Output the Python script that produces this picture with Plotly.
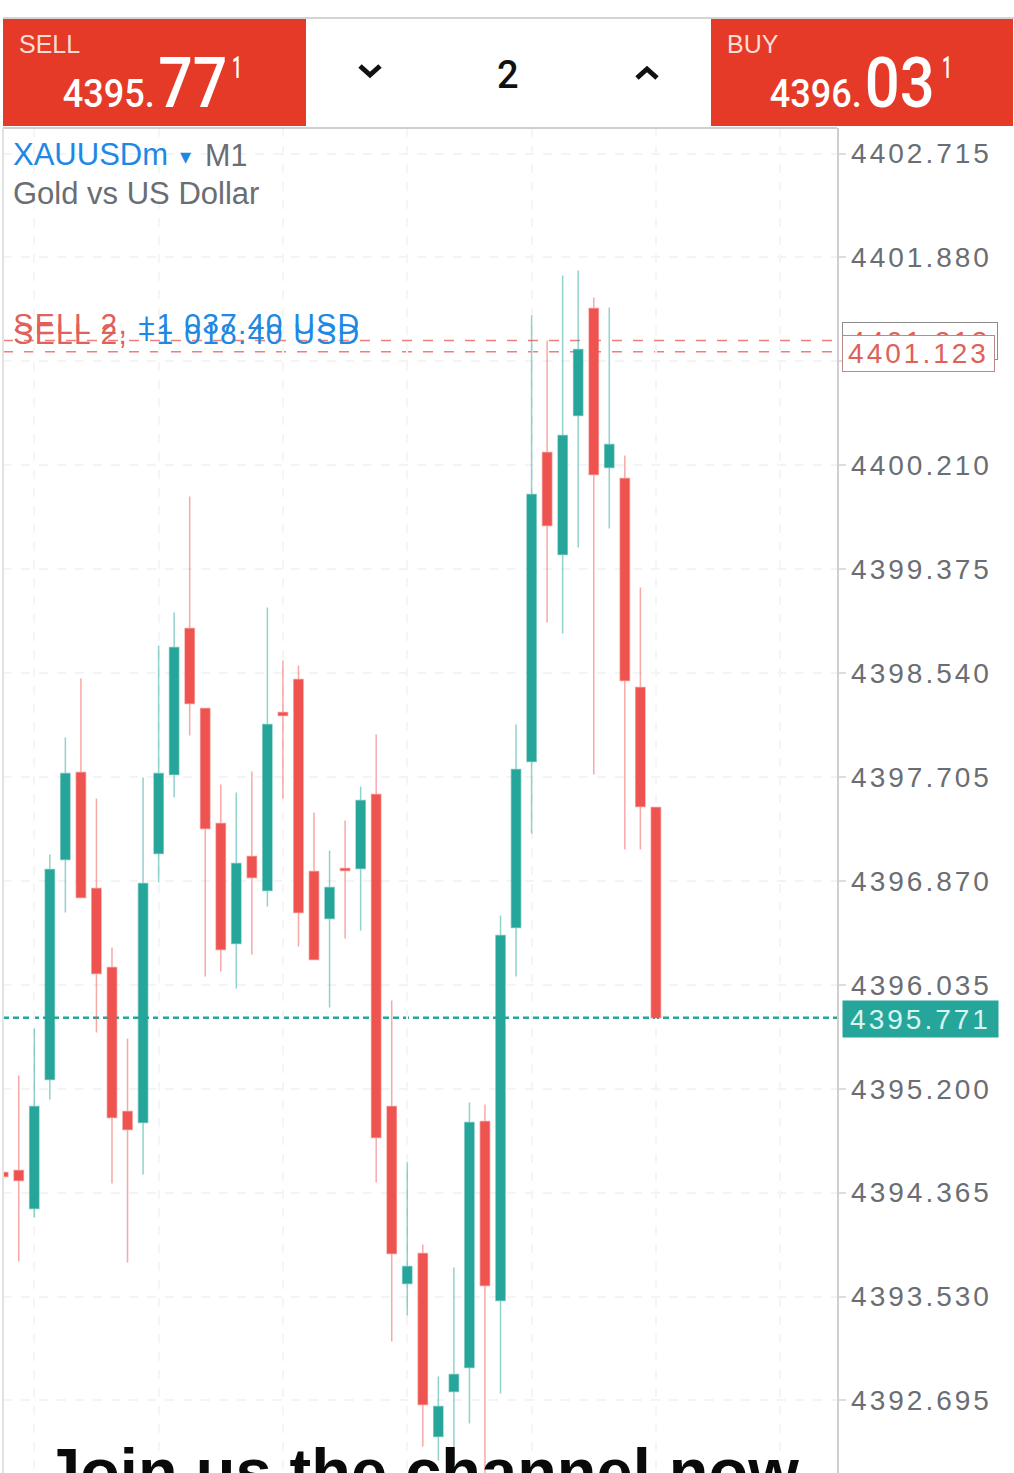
# XAUUSDm M1 candles with the sell / buy header of the trading app
import plotly.graph_objects as go

W = 1014
H = 1473

candles = list(range(43))

open_ = [4394.527, 4394.543, 4394.238, 4395.274, 4397.042, 4397.741, 4396.809, 4396.174, 4395.017, 4394.929,
         4397.090, 4397.725, 4398.898, 4398.255, 4397.331, 4396.367, 4397.066, 4396.793, 4398.223, 4398.488,
         4396.946, 4396.568, 4396.970, 4396.970, 4397.564, 4395.057, 4393.635, 4393.876, 4392.406, 4392.767,
         4392.960, 4394.937, 4393.498, 4396.496, 4397.829, 4400.312, 4399.493, 4400.609, 4401.469, 4400.192,
         4400.103, 4398.424, 4397.460]
high = [4394.527, 4395.306, 4395.684, 4397.082, 4398.022, 4398.496, 4397.532, 4396.335, 4395.604, 4397.701,
        4398.761, 4399.027, 4399.959, 4398.255, 4397.645, 4397.580, 4397.749, 4399.067, 4398.641, 4398.601,
        4397.420, 4397.114, 4397.355, 4397.628, 4398.046, 4395.909, 4394.607, 4393.948, 4392.888, 4393.764,
        4395.089, 4395.073, 4396.592, 4398.127, 4401.413, 4401.212, 4401.734, 4401.775, 4401.558, 4401.477,
        4400.288, 4399.227, 4397.460]
low = [4394.495, 4393.812, 4394.165, 4395.114, 4396.616, 4396.737, 4395.652, 4394.439, 4393.804, 4394.511,
       4396.857, 4397.540, 4398.038, 4396.102, 4396.142, 4396.005, 4396.279, 4396.664, 4397.532, 4396.343,
       4396.238, 4395.853, 4396.407, 4396.471, 4394.447, 4393.169, 4393.378, 4392.325, 4392.213, 4392.052,
       4392.510, 4392.052, 4392.751, 4396.102, 4397.251, 4398.946, 4398.858, 4399.549, 4397.725, 4399.701,
       4397.122, 4397.122, 4395.771]
close = [4394.495, 4394.463, 4395.057, 4396.962, 4397.733, 4396.737, 4396.126, 4394.969, 4394.872, 4396.849,
         4397.733, 4398.745, 4398.295, 4397.291, 4396.319, 4397.010, 4396.897, 4398.127, 4398.199, 4396.616,
         4396.238, 4396.817, 4396.954, 4397.516, 4394.808, 4393.876, 4393.772, 4392.663, 4392.647, 4392.904,
         4394.929, 4393.619, 4396.431, 4397.765, 4399.975, 4399.726, 4400.449, 4401.140, 4400.135, 4400.376,
         4398.480, 4397.468, 4395.771]

price_ticks = [4402.715, 4401.880, 4401.045, 4400.210, 4399.375, 4398.540, 4397.705,
               4396.870, 4396.035, 4395.200, 4394.365, 4393.530, 4392.695]
time_ticks = [2, 10, 18, 26, 34, 42, 50]
sell_levels = [4401.213, 4401.123]
bid_price = 4395.771

GREEN = "#26A69A"
RED = "#EF5350"
HEADER_RED = "#E53A27"
GREY = "#6A6E73"
BLUE = "#1E88E5"
FONT = "Liberation Sans"
PRICE_FONT = "Roboto"


def px(x):
    return x / W


def py(y):
    return 1 - y / H


def label(text, x, y, size, color, family=FONT, xanchor="left", yanchor="middle", weight="normal"):
    fig.add_annotation(text=text, xref="paper", yref="paper", x=px(x), y=py(y), showarrow=False,
                       xanchor=xanchor, yanchor=yanchor, borderpad=0,
                       font=dict(family=family, size=size, color=color, weight=weight))


fig = go.Figure(go.Candlestick(
    x=candles, open=open_, high=high, low=low, close=close,
    increasing=dict(line=dict(color="rgba(38,166,154,0.5)", width=1.5), fillcolor=GREEN),
    decreasing=dict(line=dict(color="rgba(239,83,80,0.5)", width=1.5), fillcolor=RED),
    whiskerwidth=0, hoverinfo="skip"))

# order lines and current price line sit behind the candles
for level in sell_levels:
    fig.add_shape(type="line", xref="paper", yref="y", x0=px(3), x1=px(837), y0=level, y1=level, layer="below",
                  line=dict(color="#EE7F7F", width=1.5, dash="10px,11px"))
fig.add_shape(type="line", xref="paper", yref="y", x0=px(3), x1=px(837), y0=bid_price, y1=bid_price, layer="below",
              line=dict(color=GREEN, width=2.5, dash="6px,4px"))

# frame
fig.add_shape(type="line", xref="paper", yref="paper", x0=px(3), x1=px(1014), y0=py(18), y1=py(18),
              line=dict(color="#D4D4D4", width=2))
fig.add_shape(type="line", xref="paper", yref="paper", x0=px(3), x1=px(837), y0=py(128), y1=py(128),
              line=dict(color="#CFCFCF", width=2))
fig.add_shape(type="line", xref="paper", yref="paper", x0=px(3), x1=px(3), y0=py(128), y1=py(1473),
              line=dict(color="#E2E2E2", width=2))

# header buttons
for x0, x1 in [(3, 306), (711, 1013)]:
    fig.add_shape(type="rect", xref="paper", yref="paper", x0=px(x0), x1=px(x1), y0=py(19), y1=py(126),
                  fillcolor=HEADER_RED, line_width=0)
fig.add_shape(type="path", xref="paper", yref="paper",
              path=f"M {px(360)} {py(66)} L {px(370)} {py(75)} L {px(380)} {py(66)}",
              line=dict(color="#111111", width=5))
fig.add_shape(type="path", xref="paper", yref="paper",
              path=f"M {px(637)} {py(78)} L {px(647)} {py(69)} L {px(657)} {py(78)}",
              line=dict(color="#111111", width=5))

label("SELL", 18, 44, 25, "#FBDCD6")
label("4395.", 109, 94, 39, "#FFFFFF", PRICE_FONT, "center", weight=500)
label("77", 192.5, 83, 70, "#FFFFFF", PRICE_FONT, "center", weight=500)
label("1", 227, 67, 32, "#FFFFFF", PRICE_FONT, weight=500)
label("BUY", 726, 44, 25, "#FBDCD6")
label("4396.", 816, 94, 39, "#FFFFFF", PRICE_FONT, "center", weight=500)
label("03", 899.5, 83, 70, "#FFFFFF", PRICE_FONT, "center", weight=500)
label("1", 937, 67, 32, "#FFFFFF", PRICE_FONT, weight=500)
label("2", 508, 75, 38, "#111111", PRICE_FONT, "center", weight=500)

label("XAUUSDm", 11.5, 155, 31, BLUE)
label("▾", 179, 156, 22, BLUE)
label("M1", 204, 155, 30.5, GREY)
label("Gold vs US Dollar", 11.5, 193, 31, GREY)

label('<span style="color:#E0605A">SELL 2,</span> +1 037.40 USD', 186.5, 323, 30, BLUE, xanchor="center")
label('<span style="color:#E0605A">SELL 2,</span> +1 018.40 USD', 186.5, 334, 30, BLUE, xanchor="center")

# price tags, the later one covers the earlier one
fig.add_annotation(text="4401.213", xref="paper", yref="paper", x=px(842), y=py(322), xanchor="left", yanchor="top",
                   width=154, height=36, showarrow=False, bgcolor="#FFFFFF", bordercolor="#8C8C8C", borderwidth=1,
                   borderpad=0, font=dict(family=FONT, size=28, color="#E0605A"))
fig.add_annotation(text="4401.123", xref="paper", yref="paper", x=px(842), y=py(335), xanchor="left", yanchor="top",
                   width=151, height=35, showarrow=False, bgcolor="#FFFFFF", bordercolor="#B98A88", borderwidth=1,
                   borderpad=0, font=dict(family=FONT, size=28, color="#E0605A"))
fig.add_annotation(text="4395.771", xref="paper", yref="paper", x=px(842), y=py(999.5), xanchor="left", yanchor="top",
                   width=155, height=36, showarrow=False, bgcolor=GREEN, borderpad=0,
                   font=dict(family=FONT, size=28, color="#D8F5F0"))

label("Join us the channel now", 421, 1434, 65, "#0A0A0A", xanchor="center", yanchor="top", weight="bold")

fig.update_layout(
    width=W, height=H, margin=dict(l=0, r=0, t=0, b=0), paper_bgcolor="#FFFFFF", plot_bgcolor="#FFFFFF",
    showlegend=False, boxgap=0.15,
    xaxis=dict(domain=[px(3), px(836.5)], range=[-0.013, 53.62], rangeslider=dict(visible=False), tickvals=time_ticks,
               showticklabels=False, ticks="", showgrid=True, gridcolor="#F5F5F5", griddash="dash", gridwidth=1.5,
               zeroline=False, showline=False),
    yaxis=dict(domain=[0, py(128)], range=[4392.112, 4402.920], side="right", tickvals=price_ticks,
               ticktext=[f"{t:.3f}" for t in price_ticks], ticks="outside", ticklen=7, tickwidth=1.5,
               tickcolor="#DDDDDD", tickfont=dict(family=FONT, size=28, color=GREY), showgrid=True,
               gridcolor="#F4F4F4", griddash="dash", gridwidth=1.5, zeroline=False, showline=True,
               linecolor="#CFCFCF", linewidth=2),
)

# the app spaces its price digits out and draws the big digits condensed, plotly has no option for that
post = """
document.body.style.margin = '0';
var squeeze = {'4395.': 92, '4396.': 92, '77': 69, '03': 70, '1': 10};
document.querySelectorAll('.ytick text, .annotation-text').forEach(function (t) {
    var s = t.textContent;
    if (/^\\d{4}\\.\\d{3}$/.test(s)) { t.style.letterSpacing = '3px'; }
    if (s.indexOf('SELL 2') === 0) { t.style.letterSpacing = '1.3px'; }
    if (squeeze[s]) {
        t.setAttribute('textLength', squeeze[s]);
        t.setAttribute('lengthAdjust', 'spacingAndGlyphs');
    }
});
"""
fig.write_html("out.html", post_script=post, config={"displayModeBar": False})
